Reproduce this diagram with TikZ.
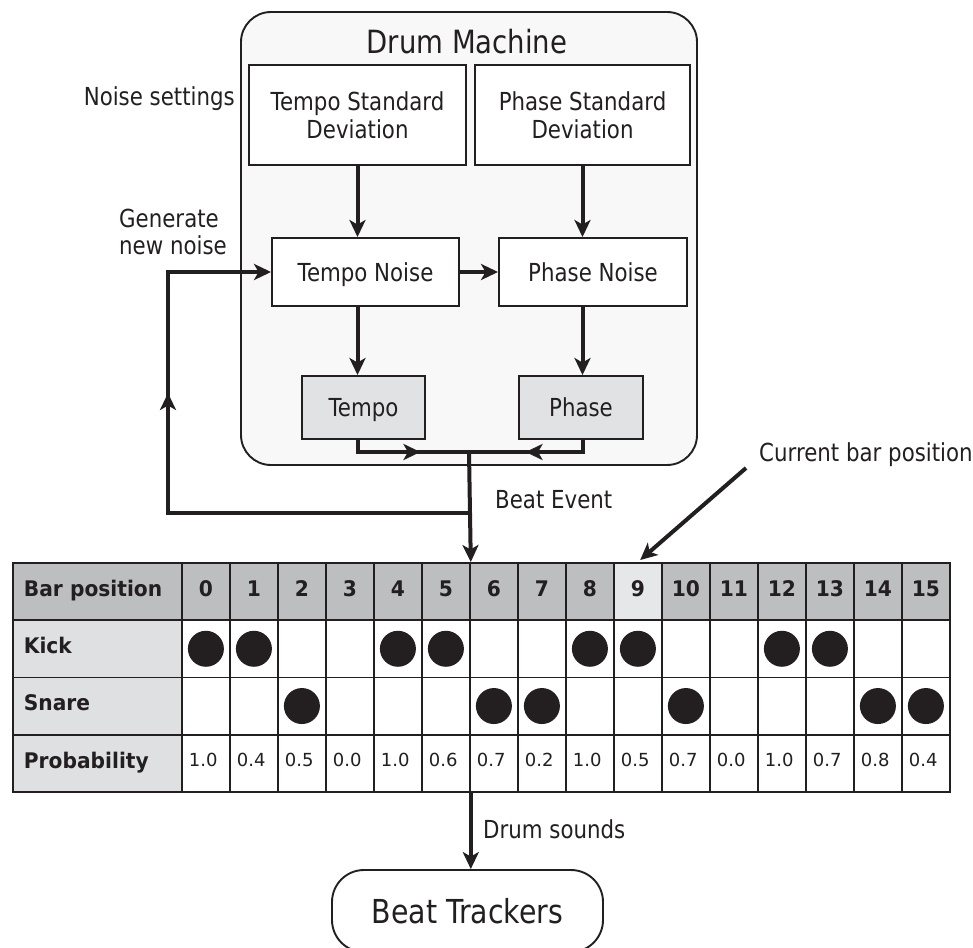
\documentclass[tikz,border=0pt]{standalone}
\usepackage{fontspec}
\setmainfont{DejaVu Sans}
\newfontfamily\condf{DejaVu Sans}[FakeStretch=0.86]
\newfontfamily\bcondf{DejaVu Sans Bold}[FakeStretch=0.94]
\usetikzlibrary{arrows.meta,decorations.markings}
\definecolor{ink}{HTML}{231F20}
\definecolor{hdr}{HTML}{BCBEC0}
\definecolor{hdrlt}{HTML}{E6E7E8}
\definecolor{colgray}{HTML}{DFE0E2}
\definecolor{boxgray}{HTML}{E1E2E4}
\definecolor{machine}{HTML}{F8F8F8}
\begin{document}
\begin{tikzpicture}[x=1pt,y=-1pt,
  body/.style={font=\condf\fontsize{24.8}{27.6}\selectfont, text=ink, inner sep=0pt},
  box/.style={body, draw=ink, line width=1.9pt, fill=white},
  onebox/.style={box, text height=18pt, text depth=0pt},
  gbox/.style={onebox, fill=boxgray},
  tip/.style={-{Stealth[length=17pt,width=16pt,inset=4.5pt]}},
  flow/.style={draw=ink, line width=4pt, tip},
  plainline/.style={draw=ink, line width=4pt},
  midarrow/.style={postaction={decorate,decoration={markings,mark=at position #1 with {\arrow[ink]{Stealth[length=17pt,width=16pt,inset=4.5pt]}}}}},
  cell/.style={draw=ink, line width=1.8pt, minimum width=48pt, minimum height=57.25pt, anchor=north west, inner sep=0pt},
  hcell/.style={cell, font=\bcondf\fontsize{21.5}{24}\selectfont, text=ink, text height=15.6pt, text depth=6pt},
  lcell/.style={cell, font=\bcondf\fontsize{21.5}{24}\selectfont, text=ink, minimum width=169pt, text width=147pt, inner xsep=11pt, align=left, text height=15.6pt, text depth=6pt},
  pcell/.style={cell, fill=white, font=\fontsize{18}{20}\selectfont, text=ink, text width=34pt, inner xsep=7pt, align=left, text height=13.1pt, text depth=6pt},
  ecell/.style={cell, fill=white},
  dot/.style={circle, fill=ink, minimum size=36pt, inner sep=0pt}
]
\useasboundingbox (0,0) rectangle (973,947);

% Drum machine container
\node[draw=ink, line width=1.9pt, fill=machine, rounded corners=30pt,
      minimum width=456pt, minimum height=453pt, inner sep=0pt] (dm) at (469,238.5) {};
\node[font=\condf\fontsize{32}{34}\selectfont, text=ink, inner sep=0pt, anchor=base] (title) at (467,54) {Drum Machine};

% Noise setting boxes
\node[box, minimum width=217pt, minimum height=100pt, align=center] (tsd) at (357.5,115) {Tempo Standard\\Deviation};
\node[box, minimum width=215pt, minimum height=100pt, align=center] (psd) at (582.5,115) {Phase Standard\\Deviation};

\node[onebox, minimum width=187pt, minimum height=68pt] (tn) at (365.5,272) {Tempo Noise};
\node[onebox, minimum width=188pt, minimum height=68pt] (pn) at (593,272) {Phase Noise};

\node[gbox, minimum width=123pt, minimum height=63pt] (tempo) at (363.5,407.5) {Tempo};
\node[gbox, minimum width=124pt, minimum height=63pt] (phase) at (581,407.5) {Phase};

% side labels
\node[body, anchor=base east] (ns) at (235,106) {Noise settings};
\node[body, anchor=west, align=left] (gen) at (119,232) {Generate\\new noise};
\node[body, anchor=base west] (be) at (495,508) {Beat Event};
\node[body, anchor=base west] (cbp) at (759,461.5) {Current bar position};
\node[body, anchor=base west] (ds) at (483,838) {Drum sounds};

% Table: first column
\node[lcell, fill=hdr] (lbar) at (12,562) {Bar position};
\node[lcell, fill=colgray] (lkick) at (12,619.25) {Kick};
\node[lcell, fill=colgray] (lsnare) at (12,676.5) {Snare};
\node[lcell, fill=colgray] (lprob) at (12,733.75) {Probability};

% Header row and empty instrument cells
\foreach \i in {0,...,15}{
  \ifnum\i=9 \def\hc{hdrlt}\else\def\hc{hdr}\fi
  \node[hcell, fill=\hc] (h\i) at ({181+48*\i},562) {\i};
  \node[ecell] (k\i) at ({181+48*\i},619.25) {};
  \node[ecell] (s\i) at ({181+48*\i},676.5) {};
}
\foreach \p [count=\n from 0] in {1.0,0.4,0.5,0.0,1.0,0.6,0.7,0.2,1.0,0.5,0.7,0.0,1.0,0.7,0.8,0.4}{
  \node[pcell] (p\n) at ({181+48*\n},733.75) {\p};
}
\foreach \i in {0,1,4,5,8,9,12,13}{ \node[dot] (ck\i) at (k\i.center) {}; }
\foreach \i in {2,6,7,10,14,15}{ \node[dot] (cs\i) at (s\i.center) {}; }

% Beat trackers (bottom clipped by the page)
\begin{scope}
  \clip (0,0) rectangle (973,947);
  \node[draw=ink, line width=1.9pt, fill=white, rounded corners=32pt,
        minimum width=271pt, minimum height=82pt, inner sep=0pt,
        font=\condf\fontsize{33}{36}\selectfont, text=ink,
        text height=24pt, text depth=0pt] (bt) at (467.5,911) {Beat Trackers};
\end{scope}

% Connectors
\coordinate (j) at (469,452);
\coordinate (fb) at (469,513);
\coordinate (lc) at (168,272);
\coordinate (cbps) at (746,468);

\draw[flow] (tsd.south) -- (tsd.south |- tn.north);
\draw[flow] (psd.south) -- (psd.south |- pn.north);
\draw[flow] (tn.east) -- (pn.west);
\draw[flow] (tsd.south |- tn.south) -- (tsd.south |- tempo.north);
\draw[flow] (psd.south |- pn.south) -- (psd.south |- phase.north);

\draw[plainline, midarrow=75pt] (tsd.south |- tempo.south) |- (j);
\draw[plainline, midarrow=69pt] (psd.south |- phase.south) |- (j);
\draw[flow] (j) -- (h5.north east);
\draw[flow, midarrow=421pt] (fb) -| (lc) -- (tn.west);

\draw[flow, shorten >=3pt] (cbps) -- (h9.north);
\draw[flow] (p5.south east) -- (p5.south east |- bt.north);
\end{tikzpicture}
\end{document}
